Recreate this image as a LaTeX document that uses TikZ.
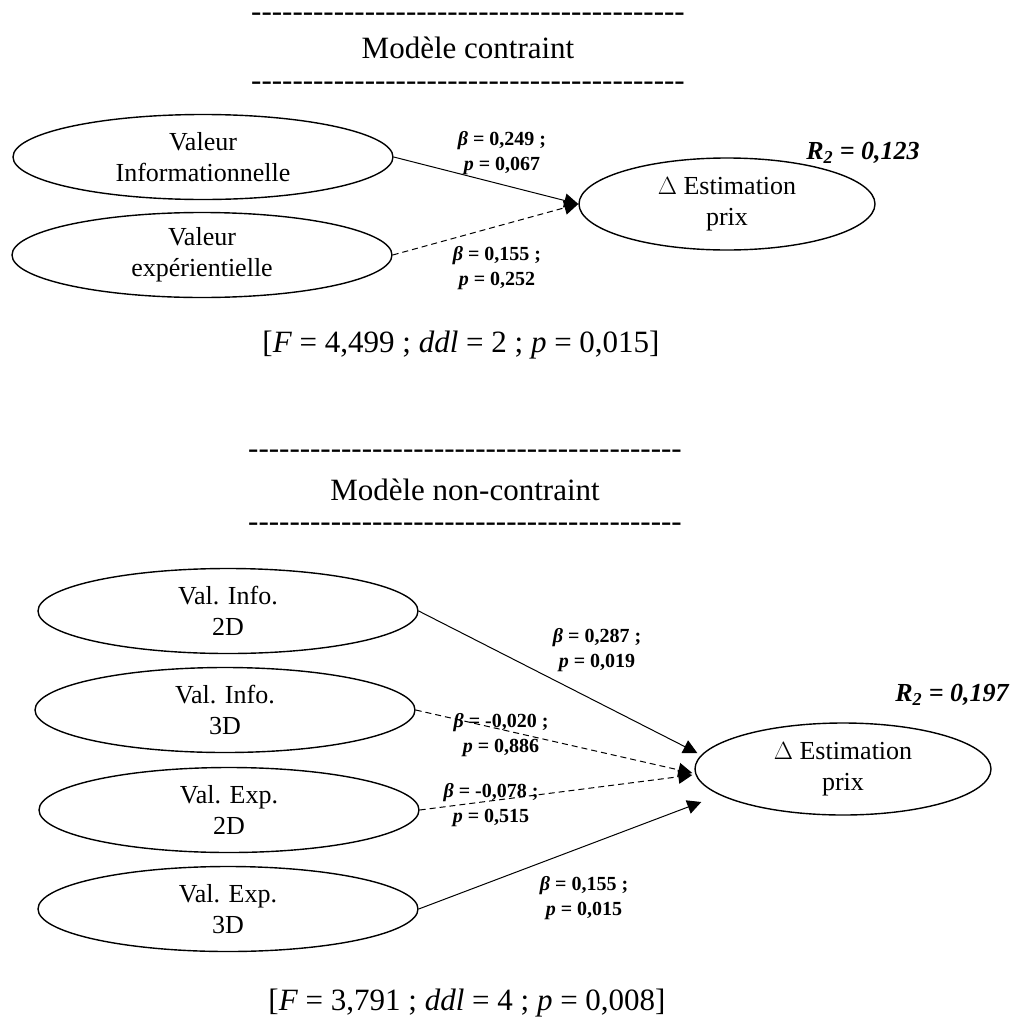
\documentclass[tikz,border=0pt]{standalone}
\usepackage{fontspec}
\setmainfont{Liberation Serif}
\usepackage{tikz}
\usetikzlibrary{shapes,arrows.meta,positioning,calc}

\newcommand{\dashline}{\foreach \k in {1,...,42}{\mbox{-}}}

\begin{document}
\begin{tikzpicture}[x=1pt,y=-1pt,
    latent/.style={ellipse, draw, line width=1.4pt, minimum width=380pt, minimum height=85pt,
      inner sep=0pt, align=center, font=\fontsize{26}{31}\selectfont},
    target/.style={latent, minimum width=296pt, minimum height=92pt},
    sigpath/.style={-{Triangle[length=14pt,width=14pt]}, line width=1pt},
    nspath/.style={sigpath, dash pattern=on 6pt off 4pt},
    coef/.style={align=center, font=\fontsize{20}{25}\selectfont\bfseries},
    rsq/.style={font=\fontsize{26}{30}\selectfont\bfseries\itshape},
    titletext/.style={font=\fontsize{31}{36}\selectfont, inner sep=0pt},
  ]
  \useasboundingbox (0,0) rectangle (1016,1020);

  % Modele contraint
  \node[titletext] (rule1) at (468,17) {\dashline};
  \node[titletext] (title1) at (468,48) {Modèle contraint};
  \node[titletext] (rule2) at (468,86) {\dashline};

  \node[latent] (valinfo) at (203,157) {Valeur\\Informationnelle};
  \node[latent] (valexp) at (202,255) {Valeur\\expérientielle};
  \node[target] (est1) at (727,204) {$\Delta$ Estimation\\prix};

  \draw[sigpath] (valinfo.east) -- (est1.west);
  \draw[nspath] (valexp.east) -- (est1.west);

  \node[coef] (b1) at (502,153) {{\itshape β} = 0,249 ;\\{\itshape p} = 0,067};
  \node[coef] (b2) at (497,268) {{\itshape β} = 0,155 ;\\{\itshape p} = 0,252};
  \node[rsq] (r1) at (863,153) {R\textsubscript{2} = 0,123};

  \node[titletext] (fit1) at (461,345) {[\textit{F} = 4,499 ; \textit{ddl} = 2 ; \textit{p} = 0,015]};

  % Modele non-contraint
  \node[titletext] (rule3) at (465,454) {\dashline};
  \node[titletext] (title2) at (465,490) {Modèle non-contraint};
  \node[titletext] (rule4) at (465,527) {\dashline};

  \node[latent] (vi2) at (228,611) {Val. Info.\\2D};
  \node[latent] (vi3) at (225,710) {Val. Info.\\3D};
  \node[latent] (ve2) at (229,810) {Val. Exp.\\2D};
  \node[latent] (ve3) at (228,909) {Val. Exp.\\3D};
  \node[target] (est2) at (843,769) {$\Delta$ Estimation\\prix};

  \draw[sigpath] (vi2.east) -- ([shift={(3,-16)}]est2.west);
  \draw[nspath] (vi3.east) -- ([shift={(-2,4)}]est2.west);
  \draw[nspath] (ve2.east) -- ([shift={(-2,6)}]est2.west);
  \draw[sigpath] (ve3.east) -- ([shift={(7,33)}]est2.west);

  \node[coef] (b3) at (597,650) {{\itshape β} = 0,287 ;\\{\itshape p} = 0,019};
  \node[coef] (b4) at (501,735) {{\itshape β} = -0,020 ;\\{\itshape p} = 0,886};
  \node[coef] (b5) at (491,805) {{\itshape β} = -0,078 ;\\{\itshape p} = 0,515};
  \node[coef] (b6) at (584,898) {{\itshape β} = 0,155 ;\\{\itshape p} = 0,015};
  \node[rsq] (r2) at (952,695) {R\textsubscript{2} = 0,197};

  \node[titletext] (fit2) at (467,1003) {[\textit{F} = 3,791 ; \textit{ddl} = 4 ; \textit{p} = 0,008]};
\end{tikzpicture}
\end{document}
